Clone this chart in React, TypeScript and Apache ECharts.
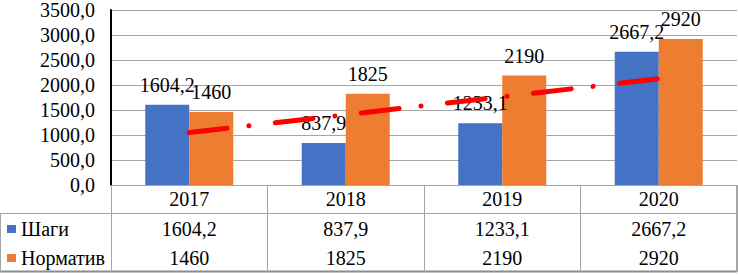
import React, { useEffect, useRef } from "react";
import * as echarts from "echarts";

const years = ["2017", "2018", "2019", "2020"];
const shagi = [1604.2, 837.9, 1233.1, 2667.2];
const normativ = [1460, 1825, 2190, 2920];
const trendYears = ["2017", "2020"];
const trendValues = [1048, 2123];
const yTicks = { min: 0, max: 3500, interval: 500 };

const FONT = "serif";
const BLUE = "#4472C4";
const ORANGE = "#ED7D31";
const GRID_GRAY = "#A6A6A6";

const fmt1 = (v: number) => v.toFixed(1).replace(".", ",");

export default function App() {
  const ref = useRef<HTMLDivElement>(null);
  useEffect(() => {
    if (!ref.current) return;
    const chart = echarts.init(ref.current, undefined, { renderer: "svg" });
    const gridLeft = 111;
    const gridRight = 1;
    const gridTop = 7;
    const gridBottom = 90;
    const W = 738;
    const H = 275;
    const axisY = H - gridBottom;
    const rightX = W - gridRight;

    const baseXAxis = {
      type: "category" as const,
      data: years,
      gridIndex: 0,
      position: "bottom" as const,
      axisLine: { show: false },
      axisTick: { show: false },
      splitLine: { show: false },
    };
    const labelStyle = { fontFamily: FONT, fontSize: 20, color: "#000" };

    chart.setOption({
      animation: false,
      textStyle: { fontFamily: FONT },
      grid: { left: gridLeft, right: gridRight, top: gridTop, bottom: gridBottom, containLabel: false },
      legend: {
        data: ["Шаги", "Норматив"],
        orient: "vertical",
        left: 7,
        top: 219,
        padding: 0,
        itemWidth: 9,
        itemHeight: 8,
        itemGap: 9,
        icon: "rect",
        textStyle: { ...labelStyle },
        selectedMode: false,
      },
      xAxis: [
        {
          ...baseXAxis,
          axisLine: { show: true, lineStyle: { color: GRID_GRAY, width: 1 } },
          axisTick: {
            show: true,
            interval: 0,
            length: 87,
            alignWithLabel: false,
            lineStyle: { color: GRID_GRAY, width: 1 },
          },
          axisLabel: { ...labelStyle, interval: 0, margin: 4 },
        },
        {
          ...baseXAxis,
          offset: 30,
          axisLabel: {
            ...labelStyle,
            interval: 0,
            margin: 4,
            formatter: (_v: string, i: number) => fmt1(shagi[i]),
          },
        },
        {
          ...baseXAxis,
          offset: 59,
          axisLabel: {
            ...labelStyle,
            interval: 0,
            margin: 4,
            formatter: (_v: string, i: number) => String(normativ[i]),
          },
        },
      ],
      yAxis: {
        type: "value",
        min: yTicks.min,
        max: yTicks.max,
        interval: yTicks.interval,
        axisLine: { show: true, lineStyle: { color: "#000", width: 2 } },
        axisTick: { show: false },
        splitLine: { show: true, lineStyle: { color: GRID_GRAY, width: 1 } },
        axisLabel: { ...labelStyle, margin: 16, formatter: (v: number) => fmt1(v) },
      },
      graphic: [
        { type: "line", shape: { x1: 0, y1: 213.5, x2: rightX, y2: 213.5 }, style: { stroke: GRID_GRAY, lineWidth: 1 } },
        { type: "line", shape: { x1: 0, y1: 271.5, x2: rightX, y2: 271.5 }, style: { stroke: "#8C8C8C", lineWidth: 2 } },
        { type: "line", shape: { x1: 0.5, y1: 213.5, x2: 0.5, y2: 272 }, style: { stroke: GRID_GRAY, lineWidth: 1 } },
        { type: "line", shape: { x1: rightX - 0.5, y1: axisY, x2: rightX - 0.5, y2: 272 }, style: { stroke: GRID_GRAY, lineWidth: 1 } },
      ],
      series: [
        {
          name: "Шаги",
          type: "bar",
          data: shagi,
          barWidth: 44,
          barGap: "0%",
          itemStyle: { color: BLUE },
          label: {
            show: true,
            position: "top",
            distance: 10,
            ...labelStyle,
            formatter: (p: any) => fmt1(p.value),
          },
        },
        {
          name: "Норматив",
          type: "bar",
          data: normativ,
          barWidth: 44,
          barGap: "0%",
          itemStyle: { color: ORANGE },
          label: {
            show: true,
            position: "top",
            distance: 10,
            ...labelStyle,
            formatter: (p: any) => String(p.value),
          },
        },
        {
          name: "Тренд",
          type: "line",
          data: trendYears.map((y, i) => [y, trendValues[i]]),
          symbol: "none",
          silent: true,
          z: 10,
          lineStyle: { color: "#FF0000", width: 5, type: [38, 22, 0.1, 26.5], cap: "round" },
        },
      ],
    });
    return () => chart.dispose();
  }, []);
  return <div ref={ref} style={{ width: 738, height: 275, position: "absolute", left: 0, top: 0 }} />;
}
